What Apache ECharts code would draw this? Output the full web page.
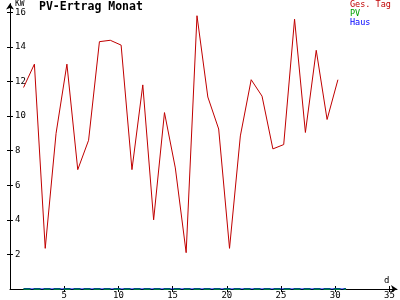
<!DOCTYPE html>
<html>
<head>
<meta charset="utf-8">
<script src="https://cdn.jsdelivr.net/npm/echarts@6/dist/echarts.min.js"></script>
<style>
html,body{margin:0;padding:0;background:#fff;}
#c{width:400px;height:300px;}
</style>
</head>
<body>
<div id="c"></div>
<script>
// Data
var dayPos = [1.25,2.25,3.25,4.25,5.25,6.25,7.25,8.25,9.25,10.25,11.25,12.25,13.25,14.25,15.25,16.25,17.25,18.25,19.25,20.25,21.25,22.25,23.25,24.25,25.25,26.25,27.25,28.25,29.25,30.25];
var gesTag = [11.65,13.0,2.35,9.0,13.0,6.9,8.6,14.3,14.38,14.1,6.9,11.8,4.0,10.2,7.0,2.1,15.8,11.1,9.25,2.35,8.85,12.1,11.15,8.1,8.35,15.6,9.05,13.8,9.8,12.1];
var flatPos = [1.25,31.0];
var pvVals = [0,0];
var hausVals = [0,0];
var xTicks = [5,10,15,20,25,30,35];
var yTicks = [2,4,6,8,10,12,14,16];
var seriesNames = ['Ges. Tag','PV','Haus'];

function pairs(xs, ys){ return xs.map(function(x,i){return [x, ys[i]];}); }

var font = 'DejaVu Sans Mono';
var red = '#c00000', green = '#00a000', blue = '#0000ff';
var chart = echarts.init(document.getElementById('c'), null, {renderer:'canvas'});
chart.setOption({
  animation:false,
  backgroundColor:'#ffffff',
  title:{
    text:'PV-Ertrag Monat', left:39, top:1, padding:0,
    textStyle:{fontFamily:font, fontSize:11.5, fontWeight:'bold', color:'#000'}
  },
  legend:{
    orient:'vertical', left:345, top:0, padding:0, itemGap:0,
    itemWidth:0, itemHeight:0, icon:'none', selectedMode:false,
    textStyle:{fontFamily:font, fontSize:8.5, lineHeight:8.3},
    data:[
      {name:seriesNames[0], textStyle:{color:red}},
      {name:seriesNames[1], textStyle:{color:green}},
      {name:seriesNames[2], textStyle:{color:blue}}
    ]
  },
  grid:{left:10, top:0, width:387, height:290, containLabel:false},
  xAxis:[{
    type:'value', min:0, max:35.7, position:'bottom',
    name:'d', nameLocation:'end', nameGap:-13,
    nameTextStyle:{fontFamily:font, fontSize:9, color:'#000', align:'left', verticalAlign:'bottom', padding:[0,0,4,0]},
    axisLine:{lineStyle:{color:'#000', width:1}, symbol:['none','arrow'], symbolSize:[6,6], onZero:false},
    axisTick:{show:true, length:3, lineStyle:{color:'#000'}, customValues:xTicks},
    axisLabel:{fontFamily:font, fontSize:9, color:'#000', margin:2, customValues:xTicks},
    splitLine:{show:false}
  },{
    type:'value', min:0, max:35.7, position:'bottom',
    axisLine:{show:false, onZero:false},
    axisTick:{show:true, inside:true, length:3, lineStyle:{color:'#000'}, customValues:xTicks},
    axisLabel:{show:false},
    splitLine:{show:false}
  }],
  yAxis:[{
    type:'value', min:0, max:16.5, position:'left',
    name:'KW', nameLocation:'end', nameGap:0,
    nameTextStyle:{fontFamily:font, fontSize:8, color:'#000', align:'left', verticalAlign:'top', padding:[1,0,0,5]},
    axisLine:{lineStyle:{color:'#000', width:1}, symbol:['none','arrow'], symbolSize:[6,6], onZero:false},
    axisTick:{show:true, length:3, lineStyle:{color:'#000'}, customValues:yTicks},
    axisLabel:{inside:true, fontFamily:font, fontSize:9, color:'#000', margin:5, customValues:yTicks},
    splitLine:{show:false}
  },{
    type:'value', min:0, max:16.5, position:'left',
    axisLine:{show:false, onZero:false},
    axisTick:{show:true, inside:true, length:3, lineStyle:{color:'#000'}, customValues:yTicks},
    axisLabel:{show:false},
    splitLine:{show:false}
  }],
  series:[
    {name:seriesNames[0], type:'line', data:pairs(dayPos, gesTag), showSymbol:false, symbol:'none',
     lineStyle:{color:red, width:1}, itemStyle:{color:red}, z:5},
    {name:seriesNames[1], type:'line', data:pairs(flatPos, pvVals), showSymbol:false, symbol:'none',
     lineStyle:{color:green, width:2, type:[7,3]}, itemStyle:{color:green}, z:3},
    {name:seriesNames[2], type:'line', data:pairs(flatPos, hausVals), showSymbol:false, symbol:'none',
     lineStyle:{color:blue, width:1}, itemStyle:{color:blue}, z:4}
  ]
});
</script>
</body>
</html>
